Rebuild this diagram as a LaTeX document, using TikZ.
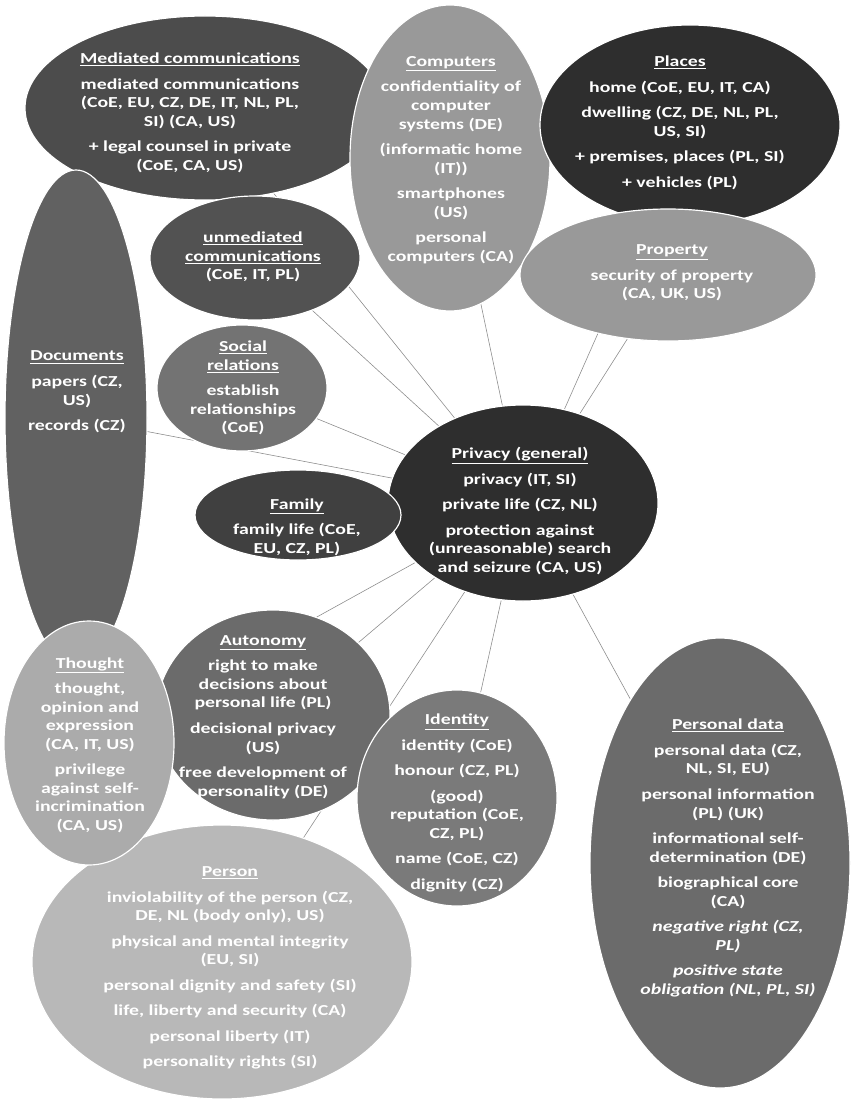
\documentclass[tikz,border=0pt]{standalone}
\usepackage{fontspec}
\setmainfont{Carlito}[FakeStretch=1.3]
\usetikzlibrary{shapes.geometric,backgrounds}

\begin{document}
\begin{tikzpicture}[x=0.03cm,y=-0.03cm]
%			\draw[help lines] (0,0) grid[step=50] (851,1099);
			\tikzset{
			  BubbleStyle/.style = { ellipse, draw = white, line width = 1pt,
			                         inner sep = 0pt },
			  Radii/.style 2 args = { minimum width = 0.06cm*#1,
			                          minimum height = 0.06cm*#2 },
			  TextStyle/.style = { text = white, align = center, inner sep = 0pt,
			                       font = \bfseries\fontsize{13}{15.8}\selectfont },
			  EdgeStyle/.style = { draw = black!45, line width = 0.5pt } }
			\useasboundingbox (0,0) rectangle (851,1099);
			\node[BubbleStyle, Radii={135}{98}, fill=black!82] (privacy) at (523,503) {};
			\node[BubbleStyle, Radii={180}{92}, fill=black!70] (mediated) at (205,108) {};
			\node[BubbleStyle, Radii={100}{153}, fill=black!40] (computers) at (450,158) {};
			\node[BubbleStyle, Radii={150}{100}, fill=black!82] (places) at (690,125) {};
			\node[BubbleStyle, Radii={148}{66}, fill=black!40] (property) at (668,275) {};
			\node[BubbleStyle, Radii={105}{62}, fill=black!68] (unmediated) at (255,258) {};
			\node[BubbleStyle, Radii={71}{248}, fill=black!62] (documents) at (76,418) {};
			\node[BubbleStyle, Radii={85}{63}, fill=black!55] (social) at (242,388) {};
			\node[BubbleStyle, Radii={103}{45}, fill=black!75] (family) at (298,515) {};
			\node[BubbleStyle, Radii={190}{137}, fill=black!28] (person) at (222,962) {};
			\node[BubbleStyle, Radii={117}{105}, fill=black!58] (autonomy) at (273,715) {};
			\node[BubbleStyle, Radii={85}{122}, fill=black!33] (thought) at (89,743) {};
			\node[BubbleStyle, Radii={100}{108}, fill=black!52] (identity) at (457,798) {};
			\node[BubbleStyle, Radii={130}{225}, fill=black!58] (personaldata) at (720,863) {};
			\begin{pgfonlayer}{background}
			\foreach \n in {mediated,computers,places,property,unmediated,documents,
			                social,family,person,autonomy,thought,identity,personaldata}
			  \draw[EdgeStyle] (privacy) -- (\n);
			\end{pgfonlayer}
			\node[TextStyle] (privacy-t) at (520,511) {\underline{Privacy (general)}\\[6pt]
			  privacy (IT, SI)\\[6pt] private life (CZ, NL)\\[6pt]
			  protection against\\ (unreasonable) search\\ and seizure (CA, US)};
			\node[TextStyle] (mediated-t) at (190,113) {\underline{Mediated communications}\\[6pt]
			  mediated communications\\ (CoE, EU, CZ, DE, IT, NL, PL,\\ SI) (CA, US)\\[6pt]
			  + legal counsel in private\\ (CoE, CA, US)};
			\node[TextStyle] (computers-t) at (451,160) {\underline{Computers}\\[6pt]
			  confidentiality of\\ computer\\ systems (DE)\\[6pt] (informatic home\\ (IT))\\[6pt]
			  smartphones\\ (US)\\[6pt] personal\\ computers (CA)};
			\node[TextStyle] (places-t) at (680,123) {\underline{Places}\\[6pt]
			  home (CoE, EU, IT, CA)\\[6pt] dwelling (CZ, DE, NL, PL,\\ US, SI)\\[6pt]
			  + premises, places (PL, SI)\\[6pt] + vehicles (PL)};
			\node[TextStyle] (property-t) at (672,273) {\underline{Property}\\[6pt]
			  security of property\\ (CA, UK, US)};
			\node[TextStyle] (unmediated-t) at (253,257) {\underline{unmediated}\\
			  \underline{communications}\\ (CoE, IT, PL)};
			\node[TextStyle] (social-t) at (243,388) {\underline{Social}\\ \underline{relations}\\[6pt]
			  establish\\ relationships\\ (CoE)};
			\node[TextStyle] (documents-t) at (77,392) {\underline{Documents}\\[6pt]
			  papers (CZ,\\ US)\\[6pt] records (CZ)};
			\node[TextStyle] (family-t) at (297,527) {\underline{Family}\\[6pt]
			  family life (CoE,\\ EU, CZ, PL)};
			\node[TextStyle] (autonomy-t) at (263,717) {\underline{Autonomy}\\[6pt]
			  right to make\\ decisions about\\ personal life (PL)\\[6pt]
			  decisional privacy\\ (US)\\[6pt] free development of\\ personality (DE)};
			\node[TextStyle] (thought-t) at (90,745) {\underline{Thought}\\[6pt]
			  thought,\\ opinion and\\ expression\\ (CA, IT, US)\\[6pt]
			  privilege\\ against self-\\ incrimination\\ (CA, US)};
			\node[TextStyle] (identity-t) at (457,803) {\underline{Identity}\\[6pt]
			  identity (CoE)\\[6pt] honour (CZ, PL)\\[6pt] (good)\\ reputation (CoE,\\ CZ, PL)\\[6pt]
			  name (CoE, CZ)\\[6pt] dignity (CZ)};
			\node[TextStyle] (person-t) at (230,968) {\underline{Person}\\[6pt]
			  inviolability of the person (CZ,\\ DE, NL (body only), US)\\[6pt]
			  physical and mental integrity\\ (EU, SI)\\[6pt]
			  personal dignity and safety (SI)\\[6pt] life, liberty and security (CA)\\[6pt]
			  personal liberty (IT)\\[6pt] personality rights (SI)};
			\node[TextStyle] (personaldata-t) at (728,858) {\underline{Personal data}\\[6pt]
			  personal data (CZ,\\ NL, SI, EU)\\[6pt] personal information\\ (PL) (UK)\\[6pt]
			  informational self-\\ determination (DE)\\[6pt] biographical core\\ (CA)\\[6pt]
			  \textit{negative right (CZ,}\\ \textit{PL)}\\[6pt]
			  \textit{positive state}\\ \textit{obligation (NL, PL, SI)}};
		\end{tikzpicture}
\end{document}
